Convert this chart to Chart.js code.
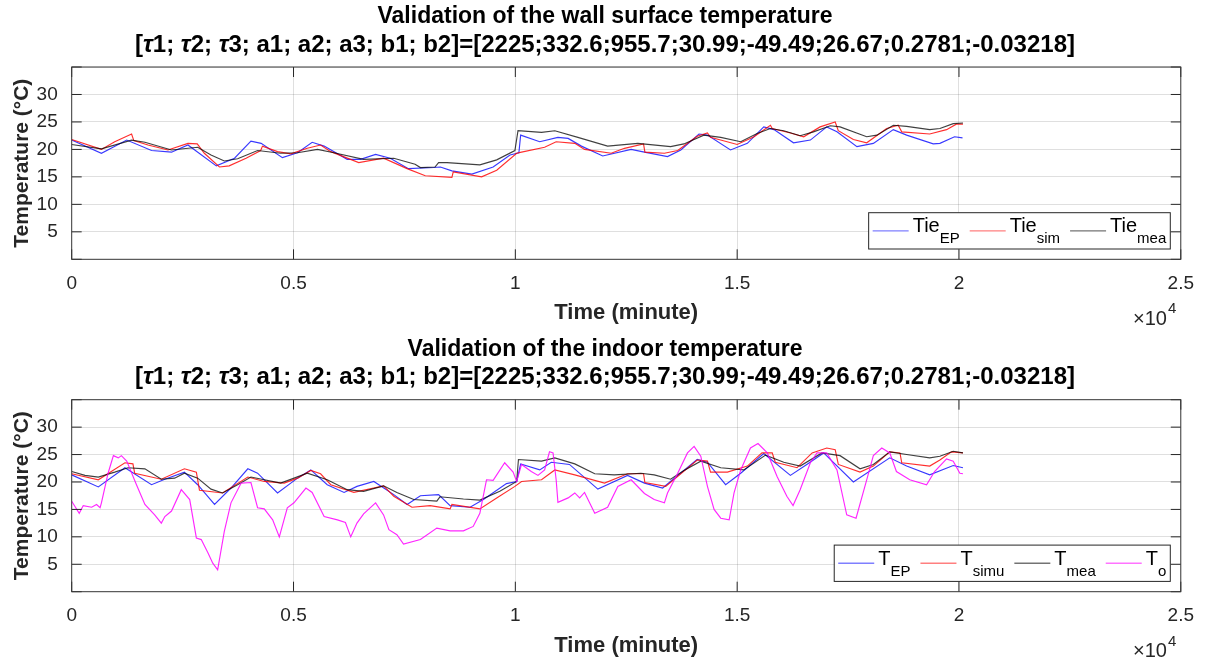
<!DOCTYPE html>
<html><head><meta charset="utf-8">
<script src="https://cdn.jsdelivr.net/npm/chart.js@4.4.1/dist/chart.umd.min.js"></script>
<style>
html,body{margin:0;padding:0;background:#fff;width:1207px;height:661px;overflow:hidden}
.wrap{position:absolute;left:0;width:1207px}
</style></head><body>
<div class="wrap" style="top:0;height:333px"><canvas id="c1"></canvas></div>
<div class="wrap" style="top:333px;height:328px"><canvas id="c2"></canvas></div>
<script>
// ---------- data (time in minutes, temperature in °C) ----------
const paramNames = ['τ1','τ2','τ3','a1','a2','a3','b1','b2'];
const paramValues = [2225, 332.6, 955.7, 30.99, -49.49, 26.67, 0.2781, -0.03218];
const xTickStep = 5000;       // axis in minutes, labels ×10^4
const yTickStep = 5;

// Top panel: wall surface temperature
const tieEP_t = [0,670,1240,1800,2250,2620,3260,3670,4040,4270,4750,5090,5420,5690,6210,6510,6850,7180,7590,8160,8310,8570,9020,9500,9880,10080,10120,10550,10960,11190,11490,11970,12610,12910,13430,13730,14140,14330,14850,15230,15600,15830,16270,16650,17020,17250,17700,18070,18520,18820,19420,19570,19900,20080];
const tieEP_v = [21.7,19.3,21.7,19.8,19.5,20.8,17.0,18.4,21.5,21.1,18.5,19.4,21.3,20.6,18.2,18.2,19.1,18.4,16.5,16.7,16.8,16.1,15.5,16.8,19.0,19.4,22.6,21.4,22.2,22.0,20.6,18.8,20.0,19.5,18.7,19.9,22.8,22.6,19.9,21.1,24.1,23.6,21.2,21.7,24.1,23.2,20.5,21.1,23.6,22.6,21.0,21.1,22.3,22.1];

const tieSim_t = [0,670,970,1350,1400,1720,2170,2620,2830,2990,3330,3550,3930,4260,4300,4640,4940,5310,5610,5840,6470,7030,7560,7970,8570,8600,9240,9580,10030,10140,10660,10920,11340,11560,12160,12460,12890,12920,13360,13660,14100,14330,14400,15000,15380,15750,15790,16200,16500,16870,17210,17280,17620,17920,18370,18630,18710,19340,19720,19940,20090];
const tieSim_v = [21.8,20.0,21.4,22.8,21.6,20.8,19.9,21.1,21.0,19.3,16.8,17.0,18.4,19.8,20.6,19.6,19.2,20.2,20.8,19.6,17.6,18.4,16.5,15.2,14.9,15.9,15.0,16.2,19.3,19.5,20.4,21.4,21.1,20.0,19.3,20.2,21.0,19.5,19.3,19.8,22.4,23.0,22.2,20.9,22.3,24.4,23.8,23.0,22.3,24.1,25.0,23.4,21.8,21.2,23.8,24.4,23.2,22.8,23.6,24.6,24.6];

const tieMea_t = [0,670,1350,1650,2250,2840,3140,3440,3740,4190,4710,5090,5540,5910,6580,7260,7740,7860,8190,8270,8460,9200,9580,9990,10060,10590,10890,11410,12080,12760,13500,13800,14250,14630,15080,15450,15750,16050,16420,16720,17100,17320,17920,18150,18520,18820,19340,19570,19870,20090];
const tieMea_v = [20.9,20.1,21.7,21.3,19.9,20.4,19.0,17.9,18.3,19.8,19.3,19.4,20.0,19.4,18.2,18.4,17.3,16.7,16.8,17.6,17.6,17.2,18.1,19.8,23.4,23.1,23.4,22.2,20.6,21.1,20.5,21.0,22.6,22.2,21.4,22.9,23.8,23.4,22.5,23.2,24.3,24.1,22.3,22.6,24.4,24.2,23.6,23.8,24.7,24.8];

// Bottom panel: indoor temperature
const tEP_t = [0,600,1200,1800,2100,2540,2840,3220,3590,3970,4190,4640,5090,5390,5760,6140,6430,6810,7260,7560,7860,8270,8530,8980,9280,9800,10030,10120,10550,10810,11220,11860,12530,12910,13320,14100,14330,14740,15080,15600,16200,16570,16950,17620,18440,18820,19340,19870,20090];
const tEP_v = [21.3,19.1,22.6,19.5,20.5,21.8,19.5,15.9,18.9,22.4,21.6,18.0,20.7,22.2,19.5,18.1,19.2,20.1,17.7,15.9,17.5,17.7,15.7,15.4,16.8,19.7,20.1,23.3,22.2,23.6,23.2,18.7,21.2,19.8,18.9,24.1,23.6,19.5,21.6,25.2,21.2,23.2,25.3,20.0,24.4,22.9,21.3,23.0,22.6];

const tSimu_t = [0,600,1200,1380,1420,2020,2540,2810,2880,3400,3970,4340,4790,5090,5390,5610,5840,6360,7030,7260,7670,8080,8530,8570,9200,9580,9990,10140,10590,10890,11340,12010,12530,12890,12920,13390,14100,14330,14400,14780,15230,15560,15790,15860,16350,16690,17020,17210,17280,17770,18070,18440,18670,18710,19340,19570,19830,20090];
const tSimu_v = [21.5,20.4,23.5,23.3,21.6,20.5,22.4,21.8,18.5,18.0,20.9,20.1,19.8,20.7,22.1,21.5,19.5,18.1,19.3,17.4,15.4,15.7,15.1,15.9,15.1,17.1,19.2,20.1,20.4,22.2,21.3,19.8,21.5,21.5,19.9,19.2,24.0,23.8,21.8,21.8,22.9,25.3,25.3,23.6,22.6,25.3,26.2,25.9,23.2,21.8,22.9,25.5,25.3,23.5,22.9,24.0,25.5,25.3];

const tMea_t = [0,300,600,970,1270,1650,2020,2320,2540,2840,3140,3400,3740,4040,4710,5310,5760,6210,6580,7030,7330,7710,8230,8300,8830,9200,9650,10030,10070,10590,10890,11340,11790,12230,12830,13130,13500,13800,14180,14630,15150,15640,16050,16420,16910,17320,17770,18070,18440,18820,19340,19570,19870,20090];
const tMea_v = [21.9,21.2,20.9,21.8,22.6,22.4,20.5,20.7,21.6,20.7,18.7,18.0,19.5,20.9,19.8,21.6,20.4,18.6,18.3,19.3,18.1,16.8,16.5,17.3,16.9,16.7,18.3,20.1,24.1,23.8,24.4,23.3,21.5,21.3,21.6,21.3,20.5,22.1,23.8,22.6,22.2,24.9,23.6,22.9,25.3,24.8,22.4,23.2,25.5,25.0,24.4,24.7,25.6,25.3];

const tO_t = [0,170,260,450,560,640,670,820,940,1050,1120,1240,1460,1650,1870,2020,2100,2250,2470,2660,2810,2920,3070,3180,3290,3440,3590,3820,4040,4190,4340,4530,4680,4860,5010,5280,5420,5690,5990,6170,6290,6430,6580,6850,7030,7150,7330,7480,7860,8230,8530,8830,9050,9200,9350,9500,9760,9950,10030,10140,10360,10510,10660,10770,10850,10920,10960,11190,11340,11450,11560,11790,12080,12310,12610,12910,13130,13360,13430,13660,13880,14030,14180,14330,14480,14630,14820,14930,15080,15300,15470,15680,15900,16120,16260,16420,16650,16800,17020,17250,17470,17680,17920,18070,18260,18440,18590,18890,19270,19450,19720,19870,20020,20090];
const tO_v = [16.5,14.3,15.7,15.4,15.9,15.3,16.2,21.6,24.8,24.4,24.8,23.8,19.5,15.9,14.0,12.5,13.7,14.7,18.6,16.8,9.8,9.5,7.1,5.2,4.0,11.0,16.2,19.8,19.9,15.3,15.1,13.1,10.0,15.3,16.2,18.9,18.1,13.7,13.1,12.6,10.0,12.5,14.2,16.2,14.0,11.3,10.4,8.7,9.5,11.6,11.1,11.1,11.9,14.3,20.4,20.3,23.5,21.8,20.1,23.2,21.9,21.2,22.2,25.5,25.3,20.4,16.3,17.1,18.0,17.1,18.1,14.3,15.4,19.2,20.4,17.9,16.8,16.2,18.0,21.6,25.3,26.5,24.7,19.2,15.0,13.4,13.1,18.0,22.2,26.2,27.0,25.3,21.0,17.4,15.7,18.6,23.5,25.3,25.3,22.2,14.0,13.4,20.4,24.8,26.2,25.3,21.9,20.4,19.5,21.9,24.2,23.8,21.6,21.5];

// ---------- styling ----------
const FONT = '"Liberation Sans", Arial, Helvetica, sans-serif';
const INK = '#262626';
const GRID = 'rgba(38,38,38,0.15)';
const COLORS = {
  blue:    ['rgba(0,0,255,0.78)',   'rgba(0,0,255,0.5)'],
  red:     ['rgba(255,0,0,0.82)',   'rgba(255,0,0,0.5)'],
  black:   ['rgba(0,0,0,0.75)',     'rgba(0,0,0,0.55)'],
  magenta: ['rgba(255,0,255,0.85)', 'rgba(255,0,255,0.55)']
};

function pts(t, v) {
  const n = Math.min(t.length, v.length), a = [];
  for (let i = 0; i < n; i++) a.push({x: t[i], y: v[i]});
  return a;
}
function ds(label, t, v, c, order) {
  return {label, data: pts(t, v), borderColor: COLORS[c][0], backgroundColor: COLORS[c][1],
          borderWidth: 1.15, pointRadius: 0, tension: 0, fill: false, order};
}

const paramLine = '[' + paramNames.join('; ') + ']=[' + paramValues.map(String).join(';') + ']';

function drawMixed(ctx, text, cx, cy, size) {
  const parts = text.split(/(τ)/).filter(s => s.length);
  const fN = 'bold ' + size + 'px ' + FONT, fI = 'italic bold ' + size + 'px ' + FONT;
  let w = 0;
  parts.forEach(p => { ctx.font = p === 'τ' ? fI : fN; w += ctx.measureText(p).width; });
  let x = cx - w / 2;
  ctx.textAlign = 'left'; ctx.textBaseline = 'middle';
  parts.forEach(p => { ctx.font = p === 'τ' ? fI : fN; ctx.fillText(p, x, cy); x += ctx.measureText(p).width; });
}

const decor = {
  id: 'decor',
  afterDraw(chart) {
    const o = chart.options.plugins.decor;
    const ctx = chart.ctx, a = chart.chartArea, xs = chart.scales.x, ys = chart.scales.y;
    ctx.save();
    // inward tick marks
    ctx.strokeStyle = INK; ctx.lineWidth = 1;
    ctx.beginPath();
    xs.ticks.forEach(t => {
      const p = xs.getPixelForValue(t.value);
      ctx.moveTo(p, a.bottom); ctx.lineTo(p, a.bottom - 10);
      ctx.moveTo(p, a.top); ctx.lineTo(p, a.top + 10);
    });
    ys.ticks.forEach(t => {
      const p = ys.getPixelForValue(t.value);
      ctx.moveTo(a.left, p); ctx.lineTo(a.left + 10, p);
      ctx.moveTo(a.right, p); ctx.lineTo(a.right - 10, p);
    });
    ctx.stroke();
    // box
    ctx.strokeStyle = '#3a3a3a';
    ctx.strokeRect(a.left, a.top, a.right - a.left, a.bottom - a.top);

    const cx = (a.left + a.right) / 2;
    ctx.fillStyle = '#000';
    // titles
    ctx.font = 'bold 23px ' + FONT; ctx.textAlign = 'center'; ctx.textBaseline = 'middle';
    ctx.fillText(o.title, o.titleCx, a.top - 50);
    drawMixed(ctx, paramLine, o.titleCx, a.top - 22, 24);
    // axis labels
    ctx.fillStyle = INK;
    ctx.font = 'bold 22px ' + FONT; ctx.textAlign = 'center'; ctx.textBaseline = 'middle';
    ctx.fillText('Time (minute)', cx, a.bottom + 54);
    ctx.save();
    ctx.font = 'bold 21px ' + FONT;
    ctx.translate(22, (a.top + a.bottom) / 2); ctx.rotate(-Math.PI / 2);
    ctx.fillText('Temperature (°C)', 0, 0);
    ctx.restore();
    // exponent
    ctx.font = '20px ' + FONT; ctx.textAlign = 'left';
    ctx.fillText('×10', 1133, a.bottom + 60);
    const ew = ctx.measureText('×10').width;
    ctx.font = '15px ' + FONT;
    ctx.fillText('4', 1133 + ew + 1, a.bottom + 50);

    // legend (labels "main_sub" → subscript)
    const items = chart.data.datasets.map(d => ({main: d.label.split('_')[0], sub: d.label.split('_')[1], color: d.backgroundColor}));
    const fM = '20px ' + FONT, fS = '15px ' + FONT;
    const widths = items.map(it => {
      ctx.font = fM; const wm = ctx.measureText(it.main).width;
      ctx.font = fS; const ws = ctx.measureText(it.sub).width;
      return {wm, ws};
    });
    const L = 36, g = 4, sep = 10, pad = 4;
    let W = pad * 2 + sep * (items.length - 1);
    widths.forEach(w => W += L + g + w.wm + w.ws);
    const right = a.right - 10.5, bottom = a.bottom - 10.3, H = 36.3;
    const left = right - W, top = bottom - H, cy = top + H / 2;
    ctx.fillStyle = '#fff'; ctx.fillRect(left, top, W, H);
    ctx.strokeStyle = INK; ctx.lineWidth = 1; ctx.strokeRect(left, top, W, H);
    let x = left + pad;
    items.forEach((it, i) => {
      ctx.strokeStyle = it.color; ctx.lineWidth = 1.3;
      ctx.beginPath(); ctx.moveTo(x, cy); ctx.lineTo(x + L, cy); ctx.stroke();
      x += L + g;
      ctx.fillStyle = '#000'; ctx.textBaseline = 'alphabetic'; ctx.textAlign = 'left';
      ctx.font = fM; ctx.fillText(it.main, x, cy + 1.3); x += widths[i].wm;
      ctx.font = fS; ctx.fillText(it.sub, x, cy + 12.5); x += widths[i].ws;
      x += sep;
    });
    ctx.restore();
  }
};

function makeChart(id, datasets, top, xh, title) {
  return new Chart(document.getElementById(id), {
    type: 'line',
    data: {datasets},
    options: {
      responsive: true, maintainAspectRatio: false, animation: false, devicePixelRatio: 1,
      layout: {padding: {top: top, right: 21.5, left: 0, bottom: 0}},
      plugins: {legend: {display: false}, tooltip: {enabled: false}, title: {display: false},
                decor: {title, titleCx: 605}},
      scales: {
        x: {type: 'linear', min: 0, max: 25000,
            afterFit(s) { s.height = xh; },
            border: {display: false},
            grid: {color: GRID, drawTicks: false, lineWidth: 1},
            ticks: {stepSize: xTickStep, autoSkip: false, maxRotation: 0, padding: 13, color: INK,
                    font: {family: FONT, size: 19}, callback: v => String(v / 1e4)}},
        y: {type: 'linear', min: 0, max: 35,
            afterFit(s) { s.width = 71.7; },
            border: {display: false},
            grid: {color: GRID, drawTicks: false, lineWidth: 1},
            ticks: {stepSize: yTickStep, padding: 14, color: INK,
                    font: {family: FONT, size: 19}, callback: v => (v === 0 || v === 35) ? '' : String(v)}}
      }
    },
    plugins: [decor]
  });
}

makeChart('c1', [
  ds('Tie_EP', tieEP_t, tieEP_v, 'blue', 2),
  ds('Tie_sim', tieSim_t, tieSim_v, 'red', 1),
  ds('Tie_mea', tieMea_t, tieMea_v, 'black', 0)
], 67, 73.7, 'Validation of the wall surface temperature');

makeChart('c2', [
  ds('T_EP', tEP_t, tEP_v, 'blue', 3),
  ds('T_simu', tSimu_t, tSimu_v, 'red', 2),
  ds('T_mea', tMea_t, tMea_v, 'black', 1),
  ds('T_o', tO_t, tO_v, 'magenta', 0)
], 66.7, 69.3, 'Validation of the indoor temperature');
</script>
</body></html>
